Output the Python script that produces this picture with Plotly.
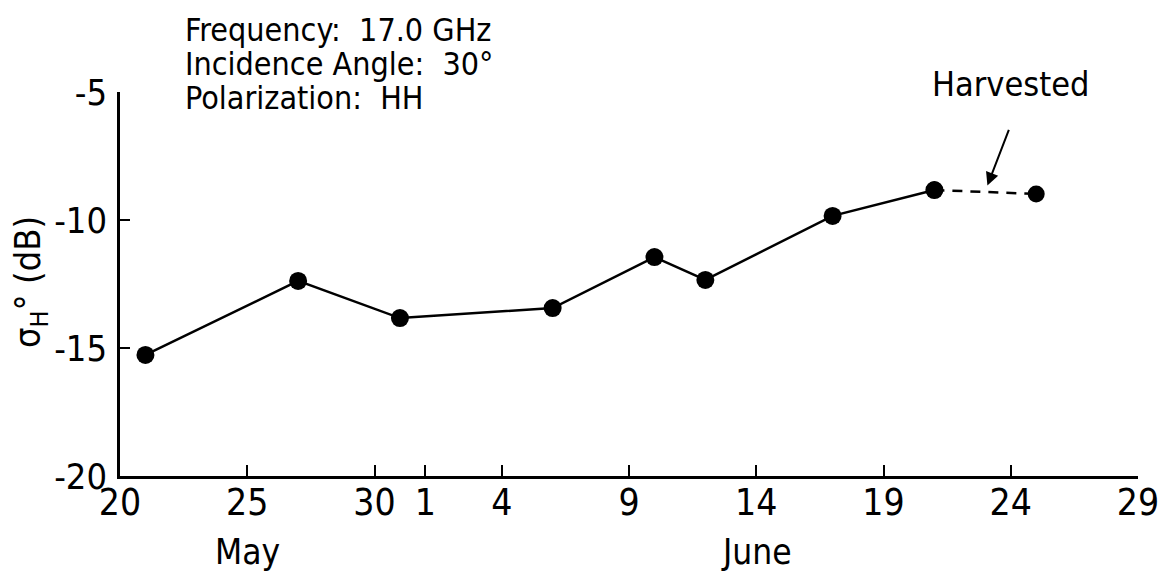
import plotly.graph_objects as go

# Observation dates and backscatter (dB)
dates = ["1975-05-21", "1975-05-27", "1975-05-31", "1975-06-06", "1975-06-10",
         "1975-06-12", "1975-06-17", "1975-06-21"]
sigma_db = [-15.27, -12.38, -13.83, -13.44, -11.45, -12.34, -9.84, -8.83]

# Post-harvest segment
harvest_dates = ["1975-06-21", "1975-06-25"]
harvest_db = [-8.83, -8.98]

tick_dates = ["1975-05-20", "1975-05-25", "1975-05-30", "1975-06-01", "1975-06-04",
              "1975-06-09", "1975-06-14", "1975-06-19", "1975-06-24", "1975-06-29"]
tick_text = ["20", "25", "30", "1", "4", "9", "14", "19", "24", "29"]
y_ticks = [-20, -15, -10, -5]
y_tick_text = ["-20", "-15", "-10", "-5"]

FONT = "Liberation Sans Narrow, DejaVu Sans Condensed, sans-serif"

fig = go.Figure()
fig.add_trace(go.Scatter(
    x=dates, y=sigma_db, mode="lines+markers",
    line=dict(color="black", width=2.5),
    marker=dict(color="black", size=18),
    cliponaxis=False, showlegend=False))
fig.add_trace(go.Scatter(
    x=harvest_dates, y=harvest_db, mode="lines+markers",
    line=dict(color="black", width=2.5, dash="10px,8px"),
    marker=dict(color="black", size=17),
    cliponaxis=False, showlegend=False))

fig.update_layout(
    width=1161, height=578,
    margin=dict(l=120, r=23, t=92, b=102),
    paper_bgcolor="white", plot_bgcolor="white",
    font=dict(family=FONT, color="black"),
    xaxis=dict(
        type="date", range=["1975-05-20", "1975-06-29"], automargin=False,
        tickmode="array", tickvals=tick_dates, ticktext=tick_text,
        ticks="inside", ticklen=11, tickwidth=2, tickcolor="black",
        showline=True, linecolor="black", linewidth=2.5,
        showgrid=False, zeroline=False, ticklabelstandoff=-8,
        tickfont=dict(size=37, family=FONT),
    ),
    yaxis=dict(
        range=[-20, -5], automargin=False,
        tickmode="array", tickvals=y_ticks, ticktext=y_tick_text,
        ticks="inside", ticklen=10, tickwidth=2, tickcolor="black",
        showline=True, linecolor="black", linewidth=2.5,
        showgrid=False, zeroline=False, ticklabelstandoff=3,
        tickfont=dict(size=36, family=FONT),
    ),
)

# Measurement conditions
conditions = ["Frequency:  17.0 GHz", "Incidence Angle:  30\u00b0", "Polarization:  HH"]
for i, line in enumerate(conditions):
    fig.add_annotation(
        text=line, xref="paper", yref="paper",
        x=(183 - 120) / 1018, y=(476 - 30 - 34 * i) / 384,
        xanchor="left", yanchor="middle", showarrow=False,
        font=dict(size=32, family=FONT))

# Month labels
for month, center in [("May", "1975-05-25"), ("June", "1975-06-14")]:
    fig.add_annotation(text=month, xref="x", yref="paper", x=center, y=(476 - 552) / 384,
                       xanchor="center", yanchor="middle", showarrow=False,
                       font=dict(size=35, family=FONT))

# Y-axis title
fig.add_annotation(text="\u03c3<sub>H</sub>\u00b0 (dB)", xref="paper", yref="paper",
                   x=(30 - 120) / 1018, y=(476 - 282) / 384,
                   xanchor="center", yanchor="middle", textangle=-90, showarrow=False,
                   font=dict(size=36, family=FONT))

# Harvest marker
fig.add_annotation(text="Harvested", xref="x", yref="paper", x="1975-06-24", y=(476 - 84) / 384,
                   xanchor="center", yanchor="middle", showarrow=False,
                   font=dict(size=34, family=FONT))
fig.add_annotation(text="", x="1975-06-23 02:00", y=-8.65, xref="x", yref="y",
                   showarrow=True, arrowhead=2, arrowsize=1.3, arrowwidth=2,
                   arrowcolor="black", ax=22, ay=-57)

fig.write_html("out.html")
